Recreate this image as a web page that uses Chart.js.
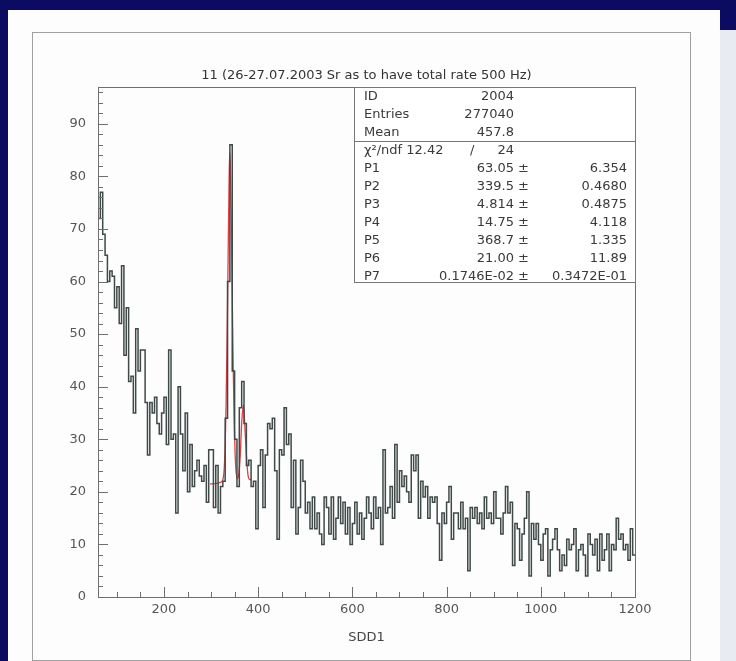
<!DOCTYPE html>
<html>
<head>
<meta charset="utf-8">
<script src="https://cdn.jsdelivr.net/npm/chart.js@4.4.0/dist/chart.umd.min.js"></script>
<style>
  html, body { margin:0; padding:0; }
  body { width:736px; height:661px; background:#0b0b62; position:relative; overflow:hidden; font-family:"DejaVu Sans", sans-serif; }
  #panel { position:absolute; left:8px; top:10px; width:712px; height:651px; background:#fdfdfd; }
  #strip { position:absolute; left:720px; top:30px; width:16px; height:631px; background:#e9ebf3; }
  #frame { position:absolute; left:32px; top:32px; width:657px; height:627px; border:1px solid #a0a0a0; }
  #c { position:absolute; left:0; top:0; }
  #title { position:absolute; left:98px; width:537px; top:67px; text-align:center; font-size:13px; color:#333; white-space:nowrap; }
  #stats { position:absolute; left:354px; top:87px; width:280px; height:194px; border:1px solid #777; background:#fff; font-size:13px; color:#3a3a3a; }
  #stats div { position:absolute; white-space:nowrap; line-height:16px; }
  #stats .sep { left:0; right:0; height:0; border-top:1px solid #777; }
</style>
</head>
<body>
<div id="panel"></div>
<div id="strip"></div>
<div id="frame"></div>
<canvas id="c" width="736" height="661"></canvas>
<div id="title">11 (26-27.07.2003 Sr as to have total rate 500 Hz)</div>
<div id="stats"></div>
<script>
// =====================
// 資料 (SDD1 histogram, bin width 5 from 60)
// =====================
const BIN_START = 60;
const BIN_WIDTH = 5;
const counts = [
  72, 77, 69, 65, 60, 62, 61, 55, 59, 52,   // 60
  63, 46, 55, 41, 42, 35, 51, 43, 47, 47,   // 110
  37, 27, 37, 35, 38, 33, 31, 35, 38, 29,   // 160
  47, 30, 31, 16, 40, 31, 24, 35, 20, 29,   // 210
  21, 24, 26, 23, 22, 25, 18, 28, 28, 17,   // 260
  25, 16, 21, 22, 34, 60, 86, 43, 30, 21,   // 310
  36, 41, 33, 25, 26, 21, 22, 13, 25, 28,   // 360
  17, 27, 33, 32, 34, 24, 11, 28, 27, 36,   // 410
  29, 31, 17, 26, 12, 17, 26, 22, 16, 18,   // 460
  13, 19, 13, 16, 12, 10, 19, 17, 12, 19,   // 510
  11, 15, 19, 14, 18, 12, 17, 10, 14, 18,   // 560
  12, 16, 11, 15, 19, 16, 13, 19, 15, 17,   // 610
  10, 28, 16, 17, 21, 15, 29, 18, 24, 21,   // 660
  23, 20, 18, 27, 24, 27, 15, 22, 19, 21,   // 710
  15, 19, 18, 19, 14, 7, 16, 14, 18, 21,    // 760
  11, 16, 16, 13, 18, 13, 15, 5, 17, 15,    // 810
  17, 14, 16, 13, 19, 15, 16, 14, 20, 15,   // 860
  15, 12, 16, 21, 16, 18, 6, 14, 13, 7,     // 910
  12, 15, 20, 4, 14, 11, 14, 10, 7, 12,     // 960
  13, 4, 9, 11, 13, 9, 5, 8, 6, 11,         // 1010
  9, 10, 13, 5, 9, 10, 8, 4, 12, 10,        // 1060
  8, 11, 5, 12, 7, 9, 12, 5, 10, 9,         // 1110
  15, 11, 12, 9, 10, 7, 13, 8               // 1160
];

// fit curve (red)
const fitX = [298, 310, 320, 325, 328, 330, 332, 334, 336, 338, 339.5, 341, 343, 345, 347, 349, 351, 353, 356, 359, 362, 365, 368.5, 372, 375, 378, 381, 386];
const fitY = [21.5, 21.6, 21.8, 22.3, 24.5, 29, 37, 49, 63, 77, 84.5, 82, 71, 57, 44, 34, 27.5, 24, 22.5, 23.5, 27, 33, 36.5, 32, 27, 23.5, 22.4, 22.3];

// axes
const X_MIN = 60, X_MAX = 1200;
const Y_MIN = 0, Y_MAX = 97;
const xTickVals = [200, 400, 600, 800, 1000, 1200];
const yTickVals = [0, 10, 20, 30, 40, 50, 60, 70, 80, 90];
const X_MINOR = 50, Y_MINOR = 2;

// stats box
const statRows = [['ID', '2004'], ['Entries', '277040'], ['Mean', '457.8']];
const chiRow = ['χ²/ndf 12.42', '/', '24'];
const parRows = [
  ['P1', '63.05 ±', '6.354'],
  ['P2', '339.5 ±', '0.4680'],
  ['P3', '4.814 ±', '0.4875'],
  ['P4', '14.75 ±', '4.118'],
  ['P5', '368.7 ±', '1.335'],
  ['P6', '21.00 ±', '11.89'],
  ['P7', '0.1746E-02 ±', '0.3472E-01']
];

// =====================
// stats box (HTML)
// =====================
(function buildStats() {
  const box = document.getElementById('stats');
  const add = (txt, top, css) => {
    const d = document.createElement('div');
    d.textContent = txt;
    d.style.top = top + 'px';
    Object.assign(d.style, css);
    box.appendChild(d);
  };
  let top = 0;
  statRows.forEach(r => {
    add(r[0], top, { left: '9px' });
    add(r[1], top, { right: (280 - 159) + 'px' });
    top += 18;
  });
  const sep = document.createElement('div');
  sep.className = 'sep';
  sep.style.top = '53px';
  box.appendChild(sep);
  top = 54;
  add(chiRow[0], top, { left: '9px' });
  add(chiRow[1], top, { left: '115px' });
  add(chiRow[2], top, { right: (280 - 159) + 'px' });
  top += 18;
  parRows.forEach(r => {
    add(r[0], top, { left: '9px' });
    add(r[1], top, { right: (280 - 174) + 'px' });
    add(r[2], top, { right: (280 - 272) + 'px' });
    top += 18;
  });
})();

// =====================
// 內向刻度 + 外框
// =====================
const frameTicks = {
  id: 'frameTicks',
  afterDraw(chart) {
    const { ctx, chartArea: a, scales: { x, y } } = chart;
    ctx.save();
    ctx.strokeStyle = '#6e6e6e';
    ctx.lineWidth = 1;
    ctx.strokeRect(Math.round(a.left) + 0.5, Math.round(a.top) + 0.5,
      Math.round(a.right - a.left), Math.round(a.bottom - a.top));
    ctx.beginPath();
    for (let v = 100; v <= X_MAX; v += X_MINOR) {
      const px = Math.round(x.getPixelForValue(v)) + 0.5;
      const len = xTickVals.includes(v) ? 10 : 5;
      ctx.moveTo(px, a.bottom);
      ctx.lineTo(px, a.bottom - len);
    }
    for (let v = Y_MIN; v <= Y_MAX; v += Y_MINOR) {
      const py = Math.round(y.getPixelForValue(v)) + 0.5;
      const len = yTickVals.includes(v) ? 10 : 5;
      ctx.moveTo(a.left, py);
      ctx.lineTo(a.left + len, py);
    }
    ctx.stroke();
    ctx.restore();
  }
};

// =====================
// Chart.js
// =====================
const histPoints = counts.map((c, i) => ({ x: BIN_START + i * BIN_WIDTH, y: c }));
histPoints.push({ x: BIN_START + counts.length * BIN_WIDTH, y: counts[counts.length - 1] });
const fitPoints = fitX.map((v, i) => ({ x: v, y: fitY[i] }));

new Chart(document.getElementById('c'), {
  type: 'line',
  data: {
    datasets: [
      {
        data: histPoints,
        stepped: true,
        borderColor: '#3f4a48',
        borderWidth: 1.5,
        pointRadius: 0,
        fill: false,
      },
      {
        data: fitPoints,
        borderColor: 'rgba(225,40,40,0.9)',
        borderWidth: 1.3,
        pointRadius: 0,
        cubicInterpolationMode: 'monotone',
        fill: false,
      }
    ]
  },
  options: {
    responsive: false,
    animation: false,
    devicePixelRatio: 1,
    layout: { padding: { left: 0, top: 87, right: 101, bottom: 16 } },
    plugins: { legend: { display: false }, tooltip: { enabled: false } },
    scales: {
      x: {
        type: 'linear',
        min: X_MIN, max: X_MAX,
        grid: { display: false, drawTicks: false },
        border: { display: false },
        afterBuildTicks: s => { s.ticks = xTickVals.map(v => ({ value: v })); },
        afterFit: s => { s.height = 48; },
        ticks: { color: '#555', padding: 5, maxRotation: 0, callback: v => String(v), font: { family: 'DejaVu Sans', size: 13 } },
        title: { display: true, text: 'SDD1', color: '#444', padding: 0, font: { family: 'DejaVu Sans', size: 13 } }
      },
      y: {
        min: Y_MIN, max: Y_MAX,
        grid: { display: false, drawTicks: false },
        border: { display: false },
        afterBuildTicks: s => { s.ticks = yTickVals.map(v => ({ value: v })); },
        afterFit: s => { s.width = 98; },
        ticks: { color: '#555', padding: 12, callback: v => String(v), font: { family: 'DejaVu Sans', size: 13 } }
      }
    }
  },
  plugins: [frameTicks]
});
</script>
</body>
</html>
